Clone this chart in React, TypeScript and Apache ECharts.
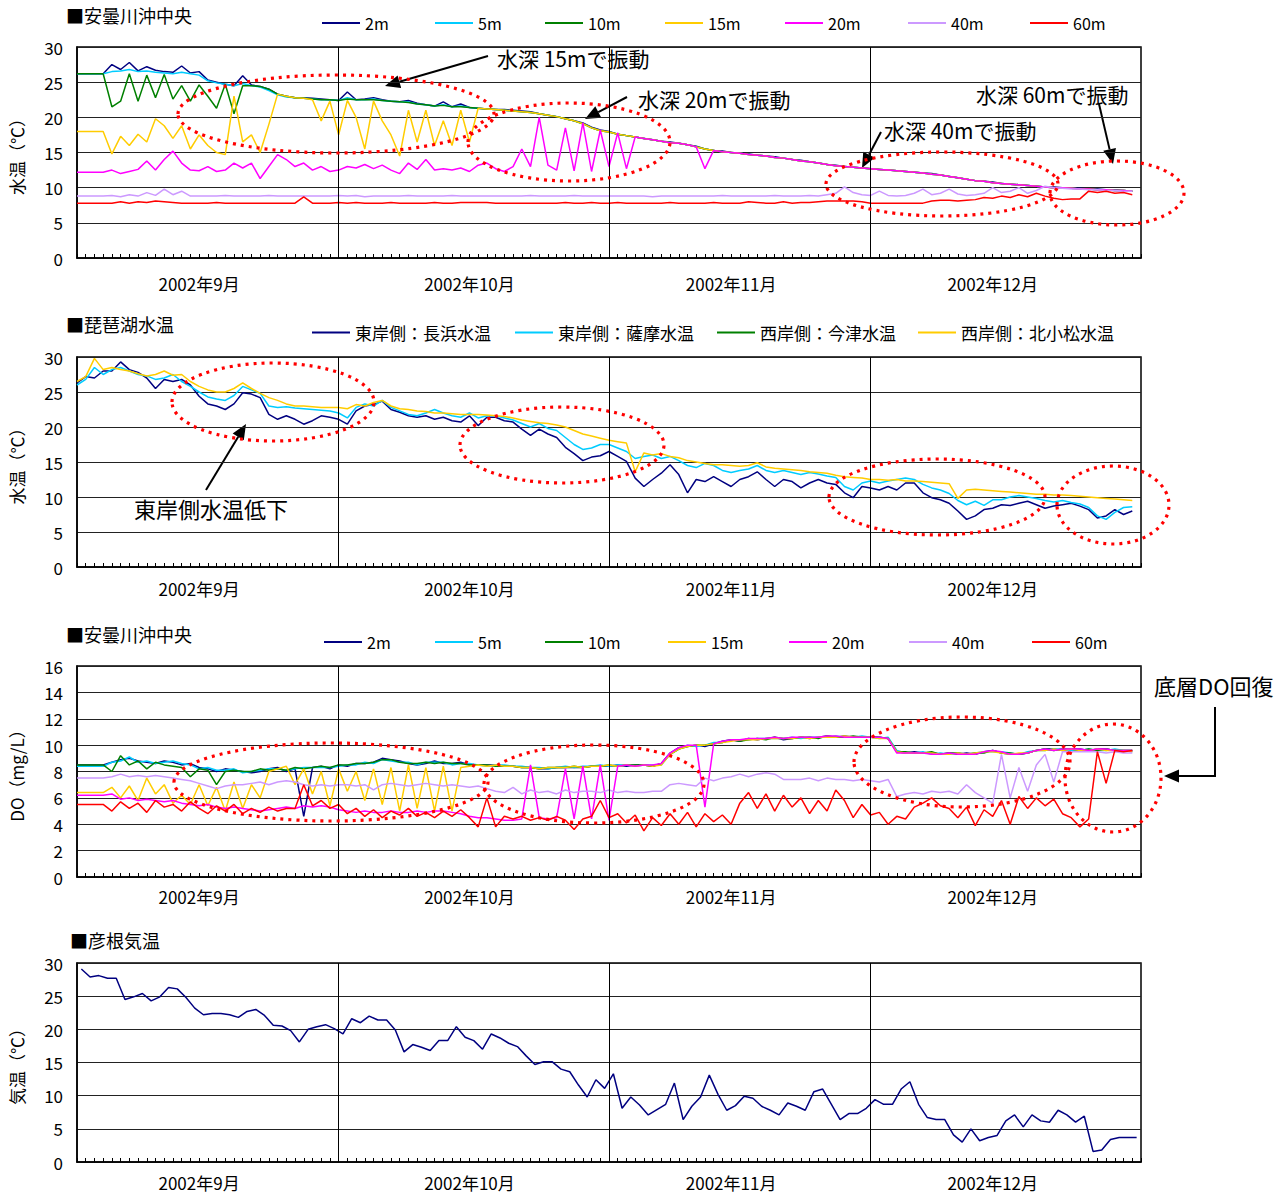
import React, { useEffect, useRef } from 'react';
import * as echarts from 'echarts';

const FONT = '"Noto Sans CJK JP", "Noto Sans", sans-serif';

// ---- axes / categories ----
const monthStarts = [30, 61, 91];
const monthLabelDays = [14, 45, 75, 105];
const monthLabels = ['2002年9月', '2002年10月', '2002年11月', '2002年12月'];

const depthNames = ['2m', '5m', '10m', '15m', '20m', '40m', '60m'];
const shoreNames = ['東岸側：長浜水温', '東岸側：薩摩水温', '西岸側：今津水温', '西岸側：北小松水温'];

// ---- Panel 1 : 安曇川沖中央 water temperature (daily, Sep 1 .. Dec 31) ----
const wt2m = [
  26.2, 26.2, 26.2, 26.2, 27.5, 26.8, 27.8, 26.6, 27.2, 26.7,
  26.5, 26.4, 27.3, 26.3, 26.5, 25.3, 25.0, 24.7, 24.5, 25.9,
  24.6, 24.4, 24.0, 23.3, 23.0, 22.8, 22.8, 22.7, 22.6, 22.5,
  22.4, 23.6, 22.5, 22.6, 22.8, 22.5, 22.3, 22.2, 22.4, 22.0,
  21.8, 21.6, 22.2, 21.5, 21.9, 21.4, 21.3, 21.2, 21.1, 21.1,
  21.0, 20.9, 20.8, 20.5, 20.3, 20.1, 19.8, 19.5, 19.2, 18.6,
  18.2, 18.0, 17.6, 17.4, 17.2, 17.0, 16.8, 16.6, 16.5, 16.3,
  16.1, 15.9, 15.5, 15.3, 15.2, 15.0, 14.9, 14.8, 14.6, 14.5,
  14.4, 14.2, 14.0, 13.9, 13.7, 13.5, 13.3, 13.2, 13.0, 12.9,
  12.8, 12.7, 12.6, 12.5, 12.4, 12.3, 12.2, 12.1, 12.0, 11.8,
  11.6, 11.4, 11.2, 11.0, 10.9, 10.8, 10.6, 10.5, 10.4, 10.3,
  10.2, 10.1, 10.1, 10.0, 9.9, 9.9, 9.8, 9.8, 9.7, 9.7,
  9.6, 9.5,
];
const wt5m = [
  26.2, 26.2, 26.2, 26.2, 26.5, 26.6, 26.8, 26.5, 26.6, 26.4,
  26.3, 26.2, 26.4, 26.2, 26.0, 25.2, 24.9, 24.7, 24.5, 24.8,
  24.5, 24.3, 23.8, 23.2, 22.9, 22.8, 22.7, 22.6, 22.5, 22.5,
  22.4, 22.8, 22.5, 22.5, 22.6, 22.4, 22.3, 22.2, 22.2, 21.9,
  21.8, 21.6, 21.8, 21.5, 21.6, 21.4, 21.3, 21.2, 21.1, 21.0,
  20.9, 20.8, 20.7, 20.5, 20.3, 20.1, 19.8, 19.5, 19.1, 18.5,
  18.1, 17.9, 17.6, 17.4, 17.2, 17.0, 16.8, 16.6, 16.4, 16.3,
  16.1, 15.8, 15.5, 15.3, 15.1, 15.0, 14.9, 14.7, 14.6, 14.5,
  14.3, 14.2, 14.0, 13.8, 13.7, 13.5, 13.3, 13.1, 13.0, 12.9,
  12.8, 12.7, 12.6, 12.5, 12.4, 12.3, 12.2, 12.1, 11.9, 11.8,
  11.6, 11.4, 11.2, 11.0, 10.9, 10.7, 10.6, 10.5, 10.4, 10.3,
  10.2, 10.1, 10.0, 10.0, 9.9, 9.8, 9.8, 9.7, 9.7, 9.6,
  9.6, 9.5,
];
const wt10m = [
  26.2, 26.2, 26.2, 26.2, 21.5, 22.3, 26.2, 22.3, 26.0, 22.8,
  26.1, 22.6, 24.5, 22.3, 24.6, 23.0, 21.3, 24.7, 20.5, 24.5,
  24.5, 24.4, 24.0, 23.3, 23.0, 22.8, 22.7, 22.6, 22.5, 22.5,
  22.4, 22.6, 22.5, 22.5, 22.5, 22.4, 22.3, 22.2, 22.1, 21.9,
  21.8, 21.6, 21.7, 21.5, 21.5, 21.4, 21.3, 21.2, 21.1, 21.0,
  20.9, 20.8, 20.7, 20.5, 20.3, 20.1, 19.8, 19.5, 19.1, 18.5,
  18.1, 17.9, 17.6, 17.4, 17.2, 17.0, 16.8, 16.6, 16.4, 16.3,
  16.1, 15.8, 15.5, 15.3, 15.1, 15.0, 14.9, 14.7, 14.6, 14.5,
  14.3, 14.2, 14.0, 13.8, 13.7, 13.5, 13.3, 13.1, 13.0, 12.9,
  12.8, 12.7, 12.6, 12.5, 12.4, 12.3, 12.2, 12.1, 11.9, 11.8,
  11.6, 11.4, 11.2, 11.0, 10.9, 10.7, 10.6, 10.5, 10.4, 10.3,
  10.2, 10.1, 10.0, 10.0, 9.9, 9.8, 9.8, 9.7, 9.7, 9.6,
  9.6, 9.5,
];
const wt15m = [
  18.0, 18.0, 18.0, 18.0, 14.8, 17.3, 16.0, 17.6, 16.5, 19.8,
  18.8, 17.0, 18.8, 15.5, 17.5, 16.0, 15.0, 14.7, 23.0, 16.5,
  17.5, 15.0, 19.0, 23.3, 23.0, 22.8, 22.7, 22.5, 19.5, 22.3,
  17.5, 22.4, 20.0, 15.5, 22.3, 19.5, 17.5, 14.5, 21.0, 16.5,
  21.0, 16.0, 19.5, 16.0, 21.0, 16.5, 21.3, 21.2, 21.1, 21.0,
  20.9, 20.8, 20.7, 20.5, 20.3, 20.1, 19.8, 19.5, 19.1, 18.5,
  18.1, 17.9, 17.6, 17.4, 17.2, 17.0, 16.8, 16.6, 16.4, 16.3,
  16.1, 15.8, 15.5, 15.3, 15.1, 15.0, 14.9, 14.7, 14.6, 14.5,
  14.3, 14.2, 14.0, 13.8, 13.7, 13.5, 13.3, 13.1, 13.0, 12.9,
  12.8, 12.7, 12.6, 12.5, 12.4, 12.3, 12.2, 12.1, 11.9, 11.8,
  11.6, 11.4, 11.2, 11.0, 10.9, 10.7, 10.6, 10.5, 10.4, 10.3,
  10.2, 10.1, 10.0, 10.0, 9.9, 9.8, 9.8, 9.7, 9.7, 9.6,
  9.6, 9.5,
];
const wt20m = [
  12.2, 12.2, 12.2, 12.2, 12.5, 12.0, 12.3, 12.6, 13.8, 12.5,
  14.0, 15.2, 13.5, 12.5, 12.4, 13.0, 12.3, 12.5, 13.5, 12.8,
  13.5, 11.3, 13.0, 14.7, 14.0, 13.0, 13.5, 12.5, 13.0, 12.3,
  12.5, 13.0, 12.8, 13.3, 12.7, 13.2, 12.5, 12.0, 13.5, 12.6,
  14.0, 12.5, 12.7, 12.5, 12.8, 12.3, 13.2, 13.5, 12.7, 12.3,
  13.0, 15.5, 13.0, 20.0, 13.2, 12.5, 18.5, 12.4, 19.2, 12.3,
  18.2, 13.0, 17.8, 12.7, 17.2, 17.0, 16.8, 16.6, 16.4, 16.3,
  16.1, 15.8, 12.7, 15.3, 15.1, 15.0, 14.9, 14.7, 14.6, 14.5,
  14.3, 14.2, 14.0, 13.8, 13.7, 13.5, 13.3, 13.1, 13.0, 12.9,
  12.8, 12.7, 12.6, 12.5, 12.4, 12.3, 12.2, 12.1, 11.9, 11.8,
  11.6, 11.4, 11.2, 11.0, 10.9, 10.7, 10.6, 10.5, 10.4, 10.3,
  10.2, 10.1, 10.0, 10.0, 9.9, 9.8, 9.8, 9.7, 9.7, 9.6,
  9.6, 9.5,
];
const wt40m = [
  8.8, 8.8, 8.8, 8.8, 8.9, 8.7, 9.0, 8.8, 9.3, 8.9,
  9.8, 9.0, 9.5, 8.8, 8.8, 8.8, 8.8, 8.9, 8.8, 8.8,
  8.8, 8.8, 8.9, 8.8, 8.8, 8.8, 8.8, 8.8, 8.8, 8.8,
  8.9, 8.8, 8.9, 8.7, 8.8, 8.8, 8.8, 8.8, 8.9, 8.8,
  8.8, 8.8, 8.8, 8.9, 8.8, 8.8, 8.8, 8.8, 8.8, 8.8,
  8.8, 8.8, 8.9, 8.8, 8.8, 8.8, 8.8, 8.9, 8.8, 8.8,
  8.8, 8.8, 8.8, 8.8, 8.8, 8.8, 8.7, 8.8, 8.8, 8.8,
  8.8, 8.8, 8.8, 8.8, 8.9, 8.8, 8.8, 8.8, 8.8, 8.8,
  8.9, 8.8, 8.8, 8.8, 8.9, 8.8, 9.0, 9.2, 10.1, 9.3,
  9.0, 8.9, 9.5, 8.9, 8.8, 8.9, 9.2, 9.8, 9.0, 9.2,
  9.8, 9.1, 8.9, 9.0, 9.2, 10.0, 9.3, 9.5, 10.0, 9.2,
  9.6, 10.2, 10.0, 9.9, 9.8, 9.8, 9.7, 9.7, 9.6, 9.6,
  9.5, 9.5,
];
const wt60m = [
  7.8, 7.8, 7.8, 7.8, 7.8, 8.0, 7.8, 8.0, 7.9, 8.1,
  8.0, 7.9, 7.8, 7.8, 7.8, 7.8, 7.9, 7.8, 7.8, 7.8,
  7.8, 7.8, 7.8, 7.8, 7.8, 7.8, 8.7, 7.8, 7.8, 7.8,
  7.9, 7.8, 7.9, 7.8, 7.8, 7.8, 7.9, 7.8, 7.8, 7.8,
  7.8, 7.9, 7.8, 7.8, 7.9, 7.9, 7.9, 7.9, 7.8, 7.8,
  7.8, 7.8, 7.8, 7.8, 7.8, 7.8, 7.9, 7.8, 7.8, 7.9,
  7.8, 7.8, 7.9, 7.8, 7.8, 7.8, 7.8, 7.8, 7.9, 7.8,
  7.8, 7.8, 7.8, 7.9, 7.8, 7.8, 7.8, 8.0, 7.9, 7.8,
  7.8, 8.0, 7.8, 7.9, 7.9, 8.0, 8.1, 8.1, 8.1, 8.1,
  8.0, 7.8, 7.8, 7.8, 7.8, 7.8, 7.8, 7.8, 8.1, 8.2,
  8.2, 8.1, 8.2, 8.3, 8.6, 8.5, 8.8, 8.6, 9.0, 8.7,
  9.2, 8.8, 8.5, 8.3, 8.4, 8.4, 9.5, 9.3, 9.5, 9.2,
  9.3, 9.0,
];

// ---- Panel 2 : 琵琶湖水温 ----
const nagahama = [
  26.3, 27.2, 27.0, 28.0, 28.0, 29.3, 28.2, 27.8, 27.0, 25.5,
  26.8, 26.5, 26.8, 26.0, 24.4, 23.3, 23.0, 22.5, 23.3, 24.9,
  24.7, 24.2, 21.8, 21.1, 21.6, 21.1, 20.4, 20.9, 21.6, 21.4,
  21.1, 20.4, 22.3, 23.0, 23.2, 23.7, 22.5, 22.1, 21.6, 21.4,
  21.6, 21.1, 21.4, 20.9, 20.7, 21.6, 20.2, 21.4, 21.4, 20.9,
  20.7, 19.7, 18.8, 19.7, 19.0, 18.5, 17.1, 16.2, 15.2, 15.7,
  15.9, 16.5, 15.8, 15.1, 12.7, 11.5, 12.5, 13.4, 14.6, 13.2,
  10.6, 12.5, 12.2, 12.9, 12.2, 11.5, 12.5, 12.9, 13.6, 12.5,
  11.5, 12.5, 12.2, 11.3, 12.0, 12.5, 12.0, 11.8, 10.6, 9.9,
  11.5, 11.3, 11.0, 11.5, 11.0, 12.0, 12.0, 10.6, 9.9, 9.6,
  9.1, 8.0, 6.8, 7.3, 8.2, 8.4, 8.9, 8.8, 9.1, 9.4,
  8.9, 8.4, 8.7, 8.9, 9.1, 8.7, 8.2, 7.0, 7.3, 8.2,
  7.5, 8.0,
];
const satsuma = [
  26.0, 26.8, 28.5, 27.5, 28.2, 28.5, 28.0, 27.5, 27.3, 26.8,
  27.0, 27.5, 26.5, 25.8, 25.0, 24.3, 24.0, 23.8, 24.5, 25.8,
  25.3, 24.8, 23.0, 22.8, 22.9, 22.7, 22.6, 22.5, 22.4, 22.3,
  22.0, 21.3, 22.8, 23.3, 23.0, 23.8, 22.8, 22.3, 21.8, 21.6,
  22.0, 22.5, 22.0, 21.6, 21.4, 22.0, 21.3, 21.6, 21.6, 21.3,
  21.0, 20.5, 20.0, 20.5, 19.8, 19.5, 18.5, 17.5, 16.8, 17.0,
  17.5, 17.5, 17.0, 16.5, 15.5, 15.8, 16.0, 15.5, 15.8, 15.2,
  14.5, 14.2, 14.8, 14.5, 13.8, 13.5, 13.8, 14.0, 14.5, 13.8,
  13.5, 13.8, 13.5, 13.2, 13.5, 13.3, 13.0, 12.8, 11.5, 11.0,
  12.0, 12.3, 12.0, 12.3, 12.5, 12.7, 12.5, 11.8, 11.3, 11.0,
  10.5, 9.5, 8.9, 9.4, 8.8, 9.6, 9.6, 10.0, 10.2, 10.0,
  9.8, 9.5, 9.3, 9.5, 9.2, 9.0, 8.5, 7.3, 6.8, 7.8,
  8.5, 8.6,
];
const imazu: number[] = [];
const kitakomatsu = [
  26.5, 27.2, 29.8, 28.2, 28.5, 28.2, 28.0, 27.6, 27.3, 27.5,
  28.0, 27.4, 27.5, 26.5, 25.8, 25.3, 25.0, 25.0, 25.5, 26.3,
  25.5, 24.8, 24.2, 23.8, 23.3, 23.0, 23.0, 22.9, 22.8, 22.8,
  22.8, 22.6, 23.2, 23.0, 23.5, 23.8, 23.0, 22.6, 22.5, 22.3,
  22.2, 22.0, 22.0, 21.9, 21.8, 21.8, 21.8, 21.7, 21.6, 21.5,
  21.3, 21.0, 20.8, 20.6, 20.5, 20.3, 20.0, 19.5, 19.0, 18.7,
  18.4, 18.1, 17.9, 17.7, 13.6, 16.3, 16.0, 16.2, 15.8, 15.6,
  15.2, 15.0, 14.8, 14.6, 14.6, 14.5, 14.4, 14.5, 14.9, 14.3,
  14.1, 14.0, 13.9, 13.8, 13.6, 13.5, 13.4, 13.1, 12.9, 12.8,
  12.7, 12.5, 12.5, 12.4, 12.5, 12.3, 12.3, 12.2, 12.1, 12.0,
  11.9, 9.8, 11.0, 11.1, 11.0, 10.9, 10.8, 10.7, 10.6, 10.5,
  10.4, 10.4, 10.3, 10.3, 10.2, 10.1, 10.0, 9.9, 9.8, 9.7,
  9.6, 9.5,
];

// ---- Panel 3 : 安曇川沖中央 DO ----
const do2m = [
  8.5, 8.5, 8.5, 8.5, 8.7, 8.9, 9.0, 8.8, 8.7, 8.6,
  8.8, 8.7, 8.5, 8.6, 8.3, 8.2, 8.0, 8.2, 8.1, 8.0,
  7.9, 8.0, 8.2, 8.3, 8.0, 8.2, 4.6, 8.3, 8.4, 8.2,
  8.5, 8.4, 8.6, 8.6, 8.7, 9.0, 8.9, 8.8, 8.6, 8.5,
  8.6, 8.8, 8.6, 8.6, 8.7, 8.5, 8.5, 8.5, 8.5, 8.4,
  8.4, 8.3, 8.3, 8.2, 8.2, 8.3, 8.3, 8.3, 8.3, 8.4,
  8.4, 8.4, 8.5, 8.4, 8.5, 8.5, 8.4, 8.6, 9.4, 9.8,
  9.9, 10.0, 9.9, 10.1, 10.3, 10.4, 10.3, 10.5, 10.4, 10.5,
  10.6, 10.4, 10.5, 10.6, 10.5, 10.6, 10.7, 10.6, 10.7, 10.6,
  10.6, 10.6, 10.6, 10.5, 9.5, 9.4, 9.5, 9.4, 9.4, 9.3,
  9.4, 9.3, 9.4, 9.3, 9.5, 9.6, 9.4, 9.3, 9.3, 9.4,
  9.6, 9.7, 9.7, 9.6, 9.7, 9.7, 9.6, 9.7, 9.7, 9.6,
  9.6, 9.6,
];
const do5m = [
  8.4, 8.4, 8.4, 8.4, 8.7, 8.8, 9.1, 8.7, 8.8, 8.6,
  8.7, 8.8, 8.6, 8.5, 8.2, 8.3, 8.1, 8.1, 8.2, 7.9,
  8.0, 8.1, 8.2, 8.2, 8.1, 8.2, 8.3, 8.3, 8.3, 8.3,
  8.4, 8.5, 8.5, 8.7, 8.6, 8.9, 8.8, 8.7, 8.7, 8.5,
  8.7, 8.7, 8.7, 8.5, 8.6, 8.6, 8.5, 8.4, 8.5, 8.5,
  8.4, 8.4, 8.3, 8.3, 8.2, 8.3, 8.4, 8.3, 8.4, 8.4,
  8.5, 8.4, 8.5, 8.5, 8.4, 8.5, 8.5, 8.5, 9.3, 9.7,
  10.0, 9.9, 10.0, 10.2, 10.2, 10.4, 10.4, 10.4, 10.5, 10.5,
  10.5, 10.5, 10.6, 10.5, 10.6, 10.6, 10.6, 10.7, 10.6, 10.6,
  10.7, 10.6, 10.5, 10.6, 9.6, 9.4, 9.4, 9.5, 9.3, 9.4,
  9.3, 9.4, 9.3, 9.4, 9.5, 9.5, 9.5, 9.4, 9.3, 9.5,
  9.6, 9.6, 9.7, 9.7, 9.6, 9.6, 9.7, 9.6, 9.6, 9.7,
  9.6, 9.5,
];
const do10m = [
  8.5, 8.5, 8.5, 8.5, 8.0, 9.2, 8.5, 8.8, 8.2, 8.7,
  8.5, 8.4, 8.3, 7.6, 8.2, 8.1, 7.0, 8.0, 8.1, 8.0,
  8.0, 8.2, 8.1, 8.2, 8.1, 8.3, 8.2, 8.3, 8.4, 8.3,
  8.5, 8.5, 8.6, 8.6, 8.7, 8.9, 8.9, 8.7, 8.6, 8.6,
  8.7, 8.6, 8.7, 8.6, 8.6, 8.5, 8.5, 8.5, 8.4, 8.4,
  8.4, 8.3, 8.3, 8.2, 8.3, 8.3, 8.3, 8.4, 8.3, 8.4,
  8.4, 8.5, 8.4, 8.5, 8.5, 8.5, 8.4, 8.6, 9.3, 9.7,
  9.9, 10.0, 10.0, 10.1, 10.2, 10.4, 10.3, 10.4, 10.5, 10.4,
  10.6, 10.5, 10.5, 10.6, 10.6, 10.5, 10.7, 10.6, 10.6, 10.7,
  10.6, 10.6, 10.6, 10.5, 9.5, 9.5, 9.4, 9.4, 9.5, 9.3,
  9.4, 9.4, 9.3, 9.4, 9.4, 9.6, 9.4, 9.4, 9.3, 9.4,
  9.6, 9.7, 9.6, 9.7, 9.7, 9.6, 9.7, 9.6, 9.7, 9.6,
  9.6, 9.6,
];
const do15m = [
  6.4, 6.4, 6.4, 6.4, 6.8, 6.0, 6.9, 5.8, 7.5, 6.3,
  7.0, 5.6, 6.2, 5.5, 7.0, 5.4, 6.8, 5.0, 7.2, 5.2,
  7.0, 6.0, 8.0, 8.2, 8.4, 7.0, 8.2, 6.3, 8.0, 5.4,
  8.2, 6.5, 8.0, 5.8, 8.2, 5.5, 8.3, 5.0, 8.5, 5.2,
  8.3, 5.0, 8.4, 5.0, 8.3, 8.4, 8.5, 8.4, 8.5, 8.4,
  8.4, 8.3, 8.3, 8.2, 8.3, 8.3, 8.3, 8.4, 8.3, 8.4,
  8.4, 8.5, 8.4, 8.5, 8.4, 8.5, 8.4, 8.5, 9.3, 9.7,
  9.9, 10.0, 10.0, 10.1, 10.2, 10.3, 10.4, 10.4, 10.4, 10.5,
  10.5, 10.5, 10.5, 10.6, 10.5, 10.6, 10.6, 10.6, 10.7, 10.6,
  10.6, 10.6, 10.5, 10.5, 9.5, 9.4, 9.4, 9.4, 9.4, 9.3,
  9.3, 9.4, 9.3, 9.4, 9.5, 9.5, 9.4, 9.3, 9.4, 9.4,
  9.6, 9.6, 9.7, 9.6, 9.7, 9.6, 9.6, 9.7, 9.6, 9.6,
  9.6, 9.5,
];
const do20m = [
  6.2, 6.2, 6.2, 6.2, 6.3, 5.9, 6.0, 5.8, 5.9, 5.8,
  5.7, 5.8, 5.6, 5.5, 5.4, 5.5, 5.3, 5.2, 5.3, 5.2,
  5.1, 5.0, 5.1, 5.2, 5.3, 5.2, 5.4, 5.3, 5.4, 5.3,
  5.1, 5.0, 4.9, 5.0, 4.9, 4.9, 5.0, 4.9, 4.9, 5.0,
  4.9, 5.0, 5.0, 4.9, 4.8, 4.6, 4.5, 4.5, 4.4, 4.3,
  4.3, 4.4, 8.5, 4.5, 4.4, 4.5, 8.2, 4.4, 8.4, 4.4,
  8.5, 4.3, 8.4, 8.5, 8.4, 8.5, 8.5, 8.6, 9.4, 9.8,
  10.0, 10.0, 5.3, 10.1, 10.3, 10.4, 10.4, 10.5, 10.5, 10.5,
  10.6, 10.5, 10.6, 10.6, 10.6, 10.6, 10.7, 10.7, 10.6, 10.6,
  10.6, 10.6, 10.6, 10.5, 9.4, 9.4, 9.4, 9.4, 9.3, 9.3,
  9.4, 9.3, 9.3, 9.3, 9.5, 9.6, 9.5, 9.3, 9.3, 9.4,
  9.6, 9.7, 9.6, 9.7, 9.7, 9.7, 9.6, 9.7, 9.7, 9.6,
  9.6, 9.6,
];
const do40m = [
  7.5, 7.5, 7.5, 7.5, 7.6, 7.8, 7.6, 7.7, 7.6, 7.7,
  7.6, 7.5, 7.4, 7.3, 7.1, 6.9, 6.7, 6.9, 7.0, 7.0,
  7.1, 7.2, 7.0, 7.2, 7.3, 7.2, 7.0, 6.9, 7.0, 6.9,
  7.0, 7.0, 6.9, 7.0, 6.6, 7.0, 7.1, 7.0, 6.9, 7.0,
  7.1, 7.0, 6.9, 7.0, 6.9, 6.8, 6.9, 6.7, 6.5, 6.4,
  6.8, 6.3, 6.6, 6.4, 6.5, 6.3, 6.6, 6.4, 6.5, 6.5,
  6.4, 6.6, 6.4, 6.5, 6.4, 6.4, 6.5, 6.5, 7.0, 7.1,
  7.0, 6.9, 7.5, 7.3, 7.5, 7.6, 7.8, 7.6, 7.8, 7.9,
  7.8, 7.4, 7.4, 7.4, 7.5, 7.3, 7.5, 7.4, 7.4, 7.3,
  7.4, 7.3, 7.2, 7.4, 6.1, 6.3, 6.4, 6.3, 6.5, 6.4,
  6.5, 6.3, 7.0, 6.4, 6.0, 5.6, 9.3, 6.0, 8.3, 6.5,
  8.5, 9.3, 7.2, 9.5, 9.5, 9.5, 9.5, 9.5, 9.4, 9.5,
  9.4, 9.4,
];
const do60m = [
  5.5, 5.5, 5.5, 5.5, 5.0, 5.7, 5.2, 5.6, 4.9, 5.8,
  5.3, 5.5, 5.0, 5.7, 5.2, 4.8, 5.4, 5.0, 5.5, 4.8,
  5.2, 4.9, 5.3, 5.0, 5.2, 5.2, 7.0, 5.4, 5.8, 5.2,
  5.5, 4.8, 5.2, 4.6, 5.1, 4.5, 5.0, 4.7, 5.2, 4.6,
  4.9, 4.5, 5.0, 4.6, 5.1, 4.5, 3.8, 6.0, 3.8, 4.6,
  4.4, 4.6, 4.3, 4.5, 4.3, 4.6, 4.3, 3.6, 4.4, 4.6,
  5.8, 4.5, 4.8, 4.1, 4.7, 3.5, 4.5, 3.9, 4.8, 4.0,
  4.9, 3.8, 4.8, 4.2, 4.7, 4.0, 5.6, 6.4, 5.2, 6.3,
  5.0, 6.2, 5.3, 6.0, 4.8, 5.8, 5.0, 6.6, 5.8, 4.5,
  5.5, 4.7, 4.9, 4.0, 4.6, 4.4, 5.3, 5.6, 6.0, 5.4,
  5.2, 4.5, 5.3, 3.9, 5.1, 4.6, 5.8, 4.0, 6.1, 5.2,
  6.0, 5.4, 5.9, 4.8, 4.5, 3.8, 4.4, 9.5, 7.1, 9.6,
  9.5, 9.6,
];

// ---- Panel 4 : 彦根気温 (daily) ----
const hikoneAir = [
  29.1, 27.9, 28.1, 27.7, 27.7, 24.5, 24.9, 25.4, 24.3, 24.9,
  26.3, 26.1, 24.8, 23.2, 22.2, 22.4, 22.4, 22.2, 21.8, 22.7,
  23.0, 22.1, 20.6, 20.5, 19.8, 18.1, 20.0, 20.4, 20.7, 20.1,
  19.3, 21.6, 21.0, 22.0, 21.4, 21.4, 19.9, 16.6, 17.7, 17.3,
  16.8, 18.3, 18.3, 20.4, 18.8, 18.3, 17.0, 19.3, 18.7, 17.9,
  17.4, 16.0, 14.7, 15.1, 15.1, 14.0, 13.6, 11.6, 9.8, 12.4,
  11.1,
  13.3, 8.1, 9.8, 8.6, 7.1, 7.9, 8.7, 11.9, 6.4, 8.4,
  9.8, 13.1, 10.2, 7.8, 8.5, 9.9, 9.6, 8.4, 7.8, 7.1,
  8.9, 8.4, 7.8, 10.6, 11.0, 8.7, 6.4, 7.3, 7.3, 8.1,
  9.4, 8.7, 8.7, 11.0, 12.1, 8.7, 6.7, 6.4, 6.4, 4.1,
  3.0, 5.0, 3.2, 3.7, 4.0, 6.2, 7.1, 5.3, 7.1, 6.2,
  6.0, 7.8, 7.1, 6.0, 6.9, 1.6, 1.8, 3.4, 3.7, 3.7,
  3.7,
];

const depthColors = ['#000080', '#00CCFF', '#008000', '#FFCC00', '#FF00FF', '#CC99FF', '#FF0000'];
const shoreColors = ['#000080', '#00CCFF', '#008000', '#FFCC00'];

function dayPairs(arr: number[], offset = 0) {
  return arr.map((v, i) => [i + offset, v]);
}

function arrow(x1: number, y1: number, x2: number, y2: number, head = 15, half = 6.5) {
  const dx = x2 - x1, dy = y2 - y1;
  const L = Math.hypot(dx, dy);
  const ux = dx / L, uy = dy / L;
  const bx = x2 - ux * head, by = y2 - uy * head;
  const px = -uy * half, py = ux * half;
  return [
    { type: 'line', shape: { x1, y1, x2: bx, y2: by }, style: { stroke: '#000', lineWidth: 2 }, silent: true },
    { type: 'polygon', shape: { points: [[x2, y2], [bx + px, by + py], [bx - px, by - py]] }, style: { fill: '#000' }, silent: true },
  ];
}

function ellipse(cx: number, cy: number, rx: number, ry: number) {
  return {
    type: 'ellipse', shape: { cx, cy, rx, ry }, silent: true, z: 100,
    style: { fill: 'none', stroke: '#FF0000', lineWidth: 3.2, lineDash: [3, 5] },
  };
}

function label(text: string, x: number, y: number, size: number) {
  return {
    type: 'text', x, y, silent: true, z: 100,
    style: { text, fontSize: size, fontFamily: FONT, fill: '#000', textVerticalAlign: 'middle', verticalAlign: 'middle' },
  };
}

export default function App() {
  const ref = useRef<HTMLDivElement>(null);
  useEffect(() => {
    const chart = echarts.init(ref.current!, null, { renderer: 'svg' });

    const grids = [
      { left: 75, top: 47, width: 1066, height: 211 },
      { left: 75, top: 357, width: 1066, height: 210 },
      { left: 76, top: 666, width: 1065, height: 211 },
      { left: 68, top: 963, width: 1073, height: 199 },
    ];
    const labelMargins = [17, 13, 11, 12];
    const yDefs = [
      { max: 30, interval: 5, name: '水温（℃）', gap: 52 },
      { max: 30, interval: 5, name: '水温（℃）', gap: 52 },
      { max: 16, interval: 2, name: 'DO（mg/L）', gap: 52 },
      { max: 30, interval: 5, name: '気温（℃）', gap: 52 },
    ];

    const monthFmt = (v: number) => {
      const k = monthLabelDays.indexOf(v);
      return k >= 0 ? monthLabels[k] : '';
    };

    const xAxis = grids.map((_, i) => ({
      type: 'value', gridIndex: i, min: 0, max: 122, interval: 1,
      axisLine: { show: true, lineStyle: { color: '#000', width: 1.5 } },
      axisTick: { show: true, inside: true, length: 4, lineStyle: { color: '#000', width: 1 } },
      axisLabel: { formatter: monthFmt, margin: labelMargins[i], fontSize: 17, color: '#000', fontFamily: FONT },
      splitLine: { show: false },
    }));
    const yAxis = yDefs.map((d, i) => ({
      type: 'value', gridIndex: i, min: 0, max: d.max, interval: d.interval,
      name: d.name, nameLocation: 'middle', nameRotate: 90, nameGap: d.gap,
      nameTextStyle: { fontSize: 17, color: '#000', fontFamily: FONT },
      axisLine: { show: true, lineStyle: { color: '#000', width: 1.5 } },
      axisTick: { show: false },
      axisLabel: { fontSize: 17, color: '#000', fontFamily: FONT, margin: 14 },
      splitLine: { show: true, lineStyle: { color: '#222', width: 1 } },
    }));

    const monthLine = () => ({
      silent: true, symbol: ['none', 'none'], animation: false,
      label: { show: false },
      lineStyle: { color: '#000', width: 1, type: 'solid' },
      data: monthStarts.map((d) => ({ xAxis: d })),
    });

    const mk = (name: string, data: number[], color: string, gi: number, offset = 0, first = false) => ({
      type: 'line', name, xAxisIndex: gi, yAxisIndex: gi,
      data: dayPairs(data, offset), showSymbol: false, symbol: 'none',
      lineStyle: { color, width: 1.5 }, itemStyle: { color },
      emphasis: { disabled: true },
      z: 2,
      ...(first ? { markLine: monthLine() } : {}),
    });

    const panel1 = [wt2m, wt5m, wt10m, wt15m, wt20m, wt40m, wt60m];
    const panel2 = [nagahama, satsuma, imazu, kitakomatsu];
    const panel3 = [do2m, do5m, do10m, do15m, do20m, do40m, do60m];

    const series: any[] = [];
    panel1.forEach((arr, k) => series.push(mk(depthNames[k], arr, depthColors[k], 0, 0, k === 0)));
    panel2.forEach((arr, k) => series.push(mk(shoreNames[k], arr, shoreColors[k], 1, 0, k === 0)));
    panel3.forEach((arr, k) => series.push(mk(depthNames[k], arr, depthColors[k], 2, 0, k === 0)));
    series.push(mk('彦根気温', hikoneAir, '#000080', 3, 0.5, true));

    const legendBase = {
      icon: 'rect', itemWidth: 38, itemHeight: 2, padding: 0,
      textStyle: { fontSize: 16, color: '#000', fontFamily: FONT },
      selectedMode: false,
    };
    const legends: any[] = [];
    const p1Lefts = [322, 435, 545, 665, 785, 908, 1030];
    const p3Lefts = [324, 435, 545, 668, 789, 909, 1032];
    depthNames.forEach((n, k) => legends.push({ ...legendBase, data: [n], left: p1Lefts[k], top: 15 }));
    const p2Lefts = [312, 515, 717, 918];
    shoreNames.forEach((n, k) => legends.push({ ...legendBase, data: [n], left: p2Lefts[k], top: 324, textStyle: { ...legendBase.textStyle, fontSize: 17 } }));
    depthNames.forEach((n, k) => legends.push({ ...legendBase, data: [n], left: p3Lefts[k], top: 634 }));

    const titleStyle = { fontSize: 18, fontWeight: 'normal', color: '#000', fontFamily: FONT };
    const title = [
      { text: '■安曇川沖中央', left: 66, top: 6, padding: 0, textStyle: titleStyle },
      { text: '■琵琶湖水温', left: 66, top: 315, padding: 0, textStyle: titleStyle },
      { text: '■安曇川沖中央', left: 66, top: 625, padding: 0, textStyle: titleStyle },
      { text: '■彦根気温', left: 70, top: 931, padding: 0, textStyle: titleStyle },
    ];

    const graphic: any[] = [
      // panel 1
      ellipse(336, 114, 158, 39),
      ellipse(569, 142, 101, 39),
      ellipse(942, 184, 116, 32),
      ellipse(1117, 193, 67, 32),
      ...arrow(488, 56, 385, 86),
      ...arrow(627, 97, 585, 119),
      ...arrow(881, 132, 862, 168),
      ...arrow(1099, 104, 1113, 164),
      label('水深 15mで振動', 497, 58, 21),
      label('水深 20mで振動', 638, 99, 21),
      label('水深 40mで振動', 884, 130, 21),
      label('水深 60mで振動', 976, 94, 21),
      // panel 2
      ellipse(273, 402, 101, 39),
      ellipse(562, 445, 102, 38),
      ellipse(937, 497, 108, 38),
      ellipse(1113, 505, 56, 39),
      ...arrow(206, 490, 246, 424),
      label('東岸側水温低下', 134, 508, 22),
      // panel 3
      ellipse(331, 782, 157, 39),
      ellipse(594, 784, 110, 39),
      ellipse(962, 762, 108, 45),
      ellipse(1113, 778, 48, 54),
      { type: 'line', shape: { x1: 1215, y1: 707, x2: 1215, y2: 776 }, style: { stroke: '#000', lineWidth: 2 }, silent: true },
      ...arrow(1216, 776, 1164, 776),
      label('底層DO回復', 1154, 685, 22),
    ];

    chart.setOption({
      animation: false,
      backgroundColor: '#fff',
      textStyle: { fontFamily: FONT },
      title,
      legend: legends,
      grid: grids.map((g) => ({ ...g, show: true, borderColor: '#000', borderWidth: 1.5, backgroundColor: 'transparent', containLabel: false })),
      xAxis,
      yAxis,
      series,
      graphic,
    });
    return () => chart.dispose();
  }, []);
  return (
    <div
      ref={ref}
      style={{ position: 'absolute', left: 0, top: 0, width: 1287, height: 1196, background: '#fff' }}
    />
  );
}
